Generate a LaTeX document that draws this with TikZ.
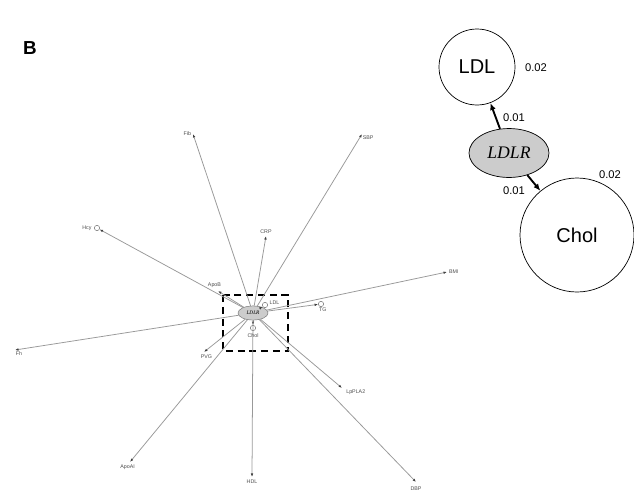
\documentclass[tikz,border=0pt]{standalone}
\usepackage{fontspec}
\setmainfont{Liberation Sans}
\newfontfamily\serifit{Liberation Serif}
\usetikzlibrary{shapes.geometric,arrows.meta}
\begin{document}
\begin{tikzpicture}[x=0.85pt,y=-0.85pt,
  edge/.style={draw=black!40,line width=0.65pt,-{Latex[length=3pt,width=2.2pt,black!75]}},
  lab/.style={font=\fontsize{4.5}{5}\selectfont,text=black!70,inner sep=0.5pt},
  endc/.style={circle,draw=black!60,line width=0.4pt,fill=white,minimum size=4.5pt,inner sep=0pt},
  bigc/.style={circle,draw=black,line width=0.6pt,inner sep=0pt,font=\fontsize{17}{19}\selectfont},
  wlab/.style={font=\fontsize{9.5}{11}\selectfont,inner sep=0pt},
  thickarr/.style={draw=black,line width=1.6pt,-{Latex[length=6pt,width=5pt]}}]
\useasboundingbox (0,0) rectangle (634,496);
\node[font=\bfseries\fontsize{16}{18}\selectfont] (B) at (30,48) {B};
% ---- left network ----
\draw[line width=1.8pt,dash pattern=on 6pt off 4pt] (223,295) rectangle (288,351);
\node[ellipse,draw=black!55,fill=black!20,line width=0.4pt,minimum width=25.5pt,minimum height=12pt,inner sep=0pt,
  font=\serifit\itshape\fontsize{4.5}{5}\selectfont] (c) at (253,313) {LDLR};
\coordinate (fib) at (193,134);
\coordinate (sbp) at (362,134);
\node[endc] (hcy) at (97,228) {};
\coordinate (crp) at (266,236);
\coordinate (apob) at (218,291);
\node[endc] (ldl) at (265,305) {};
\coordinate (bmi) at (447,272);
\node[endc] (tg) at (321,304) {};
\coordinate (fh) at (15,350);
\coordinate (pvg) at (204,352);
\node[endc] (chol) at (253,328) {};
\coordinate (apoai) at (130,462);
\coordinate (hdl) at (252,477);
\coordinate (lppla) at (342,388);
\coordinate (dbp) at (416,482);
\draw[edge] (c) -- (fib);
\draw[edge] (c) -- (sbp);
\draw[edge] (c) -- (hcy);
\draw[edge] (c) -- (crp);
\draw[edge] (c) -- (apob);
\draw[edge] (c) -- (ldl);
\draw[edge] (c) -- (bmi);
\draw[edge] (c) -- (tg);
\draw[edge] (c) -- (fh);
\draw[edge] (c) -- (pvg);
\draw[edge] (c) -- (chol);
\draw[edge] (c) -- (apoai);
\draw[edge] (c) -- (hdl);
\draw[edge] (c) -- (lppla);
\draw[edge] (c) -- (dbp);
\node[lab,anchor=east] (lfib) at ([xshift=-1pt]fib) {Fib};
\node[lab,anchor=north west] (lsbp) at ([yshift=-1pt]sbp) {SBP};
\node[lab,anchor=east] (lhcy) at ([xshift=-1.5pt]hcy.west) {Hcy};
\node[lab,anchor=south] (lcrp) at ([yshift=1pt]crp) {CRP};
\node[lab,anchor=south] (lapob) at ([xshift=-3pt,yshift=2pt]apob) {ApoB};
\node[lab,anchor=south west] (lldl) at ([xshift=1.5pt,yshift=-2pt]ldl.north east) {LDL};
\node[lab,anchor=west] (lbmi) at ([xshift=1pt]bmi) {BMI};
\node[lab,anchor=north] (ltg) at ([xshift=1.5pt,yshift=-0.5pt]tg.south) {TG};
\node[lab,anchor=north west] (lfh) at ([yshift=-1pt]fh) {Fh};
\node[lab,anchor=north] (lpvg) at ([xshift=2pt,yshift=-2pt]pvg) {PVG};
\node[lab,anchor=north] (lchol) at ([yshift=-1.5pt]chol.south) {Chol};
\node[lab,anchor=north] (lapoai) at ([xshift=-2pt,yshift=-2pt]apoai) {ApoAI};
\node[lab,anchor=north] (lhdl) at ([yshift=-2pt]hdl) {HDL};
\node[lab,anchor=north west] (llp) at ([xshift=3pt,yshift=-1pt]lppla) {LpPLA2};
\node[lab,anchor=north] (ldbp) at ([yshift=-3pt]dbp) {DBP};
% ---- right zoom ----
\node[bigc,minimum size=64.6pt] (LDL) at (477,67) {LDL};
\node[bigc,minimum size=96.9pt] (Chol) at (577,235) {Chol};
\node[ellipse,draw=black,line width=0.6pt,fill=black!20,minimum width=68pt,minimum height=41.6pt,inner sep=0pt,
  font=\serifit\itshape\fontsize{15}{17}\selectfont] (R) at (509,153) {LDLR};
\draw[thickarr] (R) -- (LDL);
\draw[thickarr] (R) -- (Chol);
\node[wlab] (w1) at (536,68) {0.02};
\node[wlab] (w2) at (514,118) {0.01};
\node[wlab] (w3) at (514,191) {0.01};
\node[wlab] (w4) at (610,175) {0.02};
\end{tikzpicture}
\end{document}
